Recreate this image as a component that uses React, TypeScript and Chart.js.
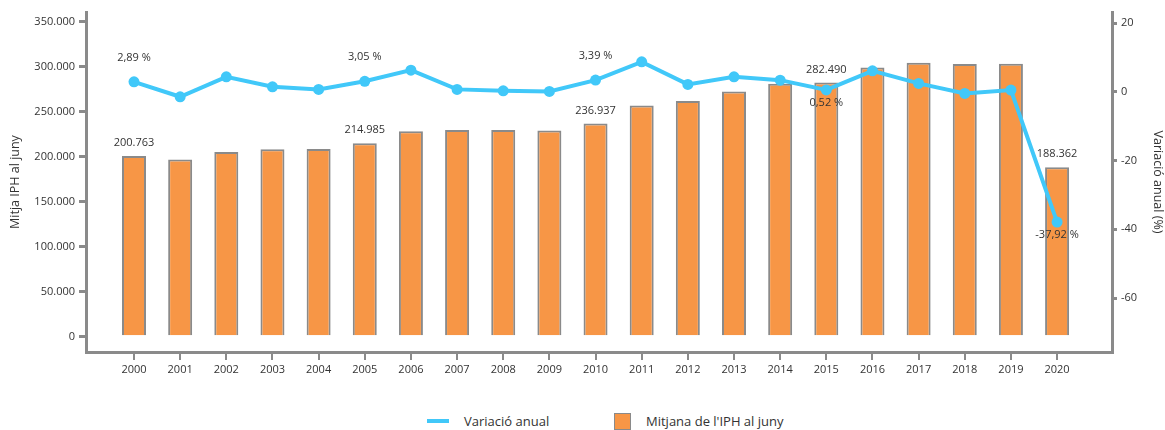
import React, { useEffect, useRef } from 'react';
import { Chart, registerables } from 'chart.js';

Chart.register(...registerables);

const years = [2000, 2001, 2002, 2003, 2004, 2005, 2006, 2007, 2008, 2009, 2010, 2011, 2012, 2013, 2014, 2015, 2016, 2017, 2018, 2019, 2020];
const iphJune = [200763, 196900, 205300, 208200, 208600, 214985, 228300, 229700, 229700, 229200, 236937, 256800, 262000, 272600, 281000, 282490, 299000, 304500, 303000, 303400, 188362];
const annualChange = [2.89, -1.46, 4.34, 1.44, 0.69, 3.05, 6.29, 0.69, 0.28, 0.1, 3.39, 8.7, 2.14, 4.34, 3.38, 0.52, 6.08, 2.43, -0.48, 0.48, -37.92];
const labeledYears = [2000, 2005, 2010, 2015, 2020];
const leftTicks = [0, 50000, 100000, 150000, 200000, 250000, 300000, 350000];
const rightTicks = [-60, -40, -20, 0, 20];

const ORANGE = '#F79646';
const BLUE = '#41C8F9';
const GREY = '#8a8a8a';
const TEXT = '#333333';
const FONT = '"Open Sans", "Noto Sans", sans-serif';

const fmtThousands = (v: number) => String(Math.round(v)).replace(/\B(?=(\d{3})+(?!\d))/g, '.');
const fmtPct = (v: number) => v.toFixed(2).replace('.', ',') + ' %';

const labelPlugin = {
  id: 'valueLabels',
  afterDatasetsDraw(chart: any) {
    const ctx = chart.ctx;
    const lineMeta = chart.getDatasetMeta(0);
    const barMeta = chart.getDatasetMeta(1);
    ctx.save();
    ctx.font = `11px ${FONT}`;
    ctx.fillStyle = TEXT;
    ctx.textAlign = 'center';
    ctx.textBaseline = 'middle';
    labeledYears.forEach((yr) => {
      const i = years.indexOf(yr);
      const b = barMeta.data[i];
      ctx.fillText(fmtThousands(iphJune[i]), b.x, b.y - 13);
      const p = lineMeta.data[i];
      const v = annualChange[i];
      const above = v > 1;
      ctx.fillText(fmtPct(v), p.x, above ? p.y - 24 : p.y + 13);
    });
    ctx.restore();
  },
};

export default function App() {
  const ref = useRef<HTMLCanvasElement | null>(null);

  useEffect(() => {
    if (!ref.current) return;
    const tickFont = { family: FONT, size: 11 };
    const chart = new Chart(ref.current, {
      type: 'bar',
      data: {
        datasets: [
          {
            type: 'line',
            label: 'Variació anual',
            data: years.map((y, i) => ({ x: y, y: annualChange[i] })),
            yAxisID: 'y1',
            xAxisID: 'x',
            borderColor: BLUE,
            backgroundColor: BLUE,
            borderWidth: 4,
            pointRadius: 5.5,
            pointBackgroundColor: BLUE,
            pointBorderWidth: 0,
            tension: 0,
            order: 0,
          } as any,
          {
            type: 'bar',
            label: "Mitjana de l'IPH al juny",
            data: years.map((y, i) => ({ x: y, y: iphJune[i] })),
            yAxisID: 'y',
            xAxisID: 'x',
            backgroundColor: ORANGE,
            borderColor: GREY,
            borderWidth: 2,
            barPercentage: 0.52,
            categoryPercentage: 1,
            order: 1,
          } as any,
        ],
      },
      options: {
        animation: false,
        responsive: false,
        layout: { padding: { top: 12, left: 0, right: 0, bottom: 0 } },
        plugins: { legend: { display: false }, tooltip: { enabled: false } },
        scales: {
          x: {
            type: 'linear',
            offset: false,
            min: 1998.96,
            max: 2021.19,
            afterBuildTicks: (s: any) => {
              s.ticks = years.map((v) => ({ value: v }));
            },
            afterFit: (s: any) => {
              s.height = 43;
            },
            ticks: { callback: (v: any) => String(v), font: tickFont, color: TEXT, autoSkip: false, maxRotation: 0, padding: 3 },
            grid: { offset: false, drawOnChartArea: false, drawTicks: true, tickLength: 8, color: GREY, lineWidth: 2 },
            border: { display: true, color: GREY, width: 3 },
          },
          y: {
            type: 'linear',
            position: 'left',
            min: -17000,
            max: 360800,
            afterBuildTicks: (s: any) => {
              s.ticks = leftTicks.map((v) => ({ value: v }));
            },
            afterFit: (s: any) => {
              s.width = 86;
            },
            ticks: { callback: (v: any) => fmtThousands(Number(v)), font: tickFont, color: TEXT, padding: 4 },
            grid: { drawOnChartArea: false, drawTicks: true, tickLength: 7, color: GREY, lineWidth: 3 },
            border: { display: true, color: GREY, width: 3 },
            title: { display: true, text: 'Mitja IPH al juny', font: { family: FONT, size: 12.5 }, color: TEXT, padding: { top: 8, bottom: 0 } },
          },
          y1: {
            type: 'linear',
            position: 'right',
            min: -75.7,
            max: 23.2,
            afterBuildTicks: (s: any) => {
              s.ticks = rightTicks.map((v) => ({ value: v }));
            },
            afterFit: (s: any) => {
              s.width = 53;
            },
            ticks: { callback: (v: any) => String(v), font: tickFont, color: TEXT, padding: 4 },
            grid: { drawOnChartArea: false, drawTicks: true, tickLength: 5, color: GREY, lineWidth: 3 },
            border: { display: true, color: GREY, width: 3 },
            title: { display: true, text: 'Variació anual (%)', font: { family: FONT, size: 12.5 }, color: TEXT, padding: { top: 0, bottom: 0 } },
          },
        },
      } as any,
      plugins: [labelPlugin],
    });
    return () => chart.destroy();
  }, []);

  return (
    <div style={{ position: 'absolute', left: 0, top: 0, width: 1165, height: 430, background: '#fff', fontFamily: FONT }}>
      <canvas ref={ref} width={1165} height={395} style={{ display: 'block' }} />
      <div style={{ position: 'absolute', top: 411, left: 427, display: 'flex', alignItems: 'center', fontSize: 13, color: TEXT, height: 20 }}>
        <div style={{ width: 187, display: 'flex', alignItems: 'center' }}>
          <span style={{ width: 22, height: 4, background: BLUE, marginRight: 15, display: 'inline-block' }} />
          <span>Variació anual</span>
        </div>
        <div style={{ display: 'flex', alignItems: 'center' }}>
          <span style={{ width: 15, height: 15, background: ORANGE, border: `1.5px solid ${GREY}`, marginRight: 15, display: 'inline-block' }} />
          <span>Mitjana de l'IPH al juny</span>
        </div>
      </div>
    </div>
  );
}
